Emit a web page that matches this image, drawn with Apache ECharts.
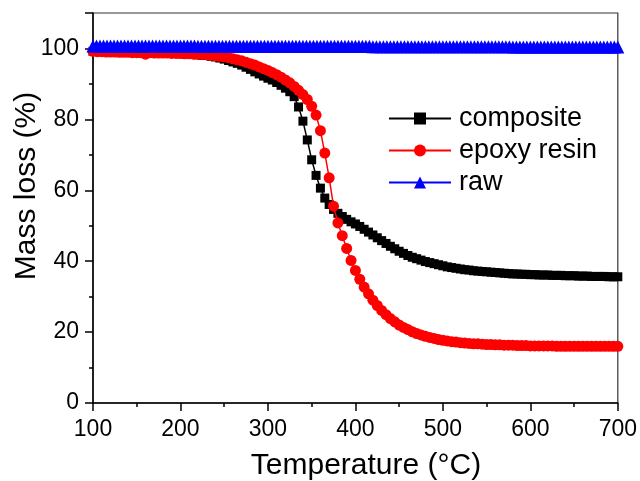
<!DOCTYPE html>
<html>
<head>
<meta charset="utf-8">
<script src="https://cdn.jsdelivr.net/npm/echarts@6/dist/echarts.min.js"></script>
<style>
html,body{margin:0;padding:0;background:#fff;}
#chart{width:640px;height:481px;}
</style>
</head>
<body>
<div id="chart"></div>
<script>
// Temperature grid (°C) for composite / epoxy resin: 100..700 every 5
var tStartA = 100, tStepA = 5;
// Temperature grid for raw: 100..700 every 4
var tStartB = 100, tStepB = 4;

var seriesNames = ['composite', 'epoxy resin', 'raw'];

var composite = [
  99.2, 99.2, 99.1, 99.1, 99.1, 99.0, 99.0, 99.0, 98.9, 98.9,
  98.9, 98.8, 98.8, 98.8, 98.7, 98.7, 98.7, 98.6, 98.6, 98.6,
  98.5, 98.5, 98.4, 98.3, 98.2, 98.1, 98.0, 97.8, 97.6, 97.3,
  97.0, 96.6, 96.2, 95.8, 95.3, 94.7, 94.1, 93.4, 92.8, 92.2,
  91.6, 91.1, 90.4, 89.6, 88.8, 87.8, 86.4, 83.5, 79.5, 74.2,
  68.6, 64.2, 60.6, 57.8, 56.0, 54.6, 53.5, 52.6, 51.8, 51.1,
  50.5, 49.8, 49.0, 48.2, 47.4, 46.6, 45.8, 45.0, 44.2, 43.5,
  42.8, 42.2, 41.6, 41.1, 40.7, 40.3, 39.9, 39.6, 39.3, 39.0,
  38.7, 38.4, 38.2, 38.0, 37.8, 37.6, 37.5, 37.3, 37.2, 37.1,
  37.0, 36.9, 36.8, 36.7, 36.6, 36.5, 36.4, 36.4, 36.3, 36.3,
  36.2, 36.2, 36.1, 36.1, 36.1, 36.0, 36.0, 36.0, 35.9, 35.9,
  35.9, 35.8, 35.8, 35.8, 35.7, 35.7, 35.7, 35.7, 35.6, 35.6,
  35.6
];

var epoxy = [
  99.2, 99.1, 99.1, 99.0, 99.0, 99.0, 98.9, 98.9, 98.9, 98.8,
  98.8, 98.8, 98.4, 98.8, 98.7, 98.7, 98.7, 98.7, 98.6, 98.6,
  98.6, 98.5, 98.5, 98.4, 98.4, 98.3, 98.2, 98.1, 97.9, 97.8,
  97.6, 97.4, 97.1, 96.8, 96.5, 96.1, 95.7, 95.3, 94.8, 94.3,
  93.8, 93.2, 92.6, 91.9, 91.1, 90.3, 89.3, 88.2, 87.0, 85.6,
  83.7, 81.2, 76.8, 70.5, 63.5, 55.5, 50.8, 47.2, 43.6, 40.2,
  37.4, 34.9, 32.7, 30.8, 29.0, 27.5, 26.1, 24.9, 23.8, 22.9,
  22.0, 21.3, 20.7, 20.1, 19.6, 19.2, 18.8, 18.5, 18.2, 17.9,
  17.7, 17.5, 17.3, 17.2, 17.0, 16.9, 16.8, 16.7, 16.7, 16.6,
  16.5, 16.5, 16.4, 16.4, 16.3, 16.3, 16.3, 16.2, 16.2, 16.2,
  16.1, 16.1, 16.1, 16.1, 16.1, 16.1, 16.0, 16.0, 16.0, 16.0,
  16.0, 16.0, 16.0, 16.0, 16.0, 16.0, 16.0, 16.0, 16.0, 16.0,
  16.0
];

var raw = [
  100.7, 100.7, 100.7, 100.7, 100.7, 100.7, 100.7, 100.7, 100.7, 100.7,
  100.7, 100.7, 100.7, 100.7, 100.7, 100.7, 100.7, 100.7, 100.7, 100.7,
  100.7, 100.7, 100.7, 100.7, 100.7, 100.7, 100.7, 100.7, 100.7, 100.7,
  100.6, 100.6, 100.6, 100.6, 100.6, 100.6, 100.6, 100.6, 100.6, 100.6,
  100.6, 100.6, 100.6, 100.6, 100.6, 100.6, 100.6, 100.6, 100.6, 100.6,
  100.6, 100.6, 100.6, 100.6, 100.6, 100.6, 100.6, 100.6, 100.6, 100.6,
  100.6, 100.6, 100.6, 100.6, 100.6, 100.6, 100.6, 100.6, 100.6, 100.6,
  100.6, 100.6, 100.6, 100.6, 100.6, 100.6, 100.6, 100.6, 100.6, 100.6,
  100.5, 100.5, 100.5, 100.5, 100.5, 100.5, 100.5, 100.5, 100.5, 100.5,
  100.5, 100.5, 100.5, 100.5, 100.5, 100.5, 100.5, 100.5, 100.5, 100.5,
  100.5, 100.5, 100.5, 100.5, 100.5, 100.5, 100.5, 100.5, 100.5, 100.5,
  100.5, 100.5, 100.5, 100.5, 100.5, 100.5, 100.5, 100.5, 100.5, 100.5,
  100.4, 100.4, 100.4, 100.4, 100.4, 100.4, 100.4, 100.4, 100.4, 100.4,
  100.4, 100.4, 100.4, 100.4, 100.4, 100.4, 100.4, 100.4, 100.4, 100.4,
  100.4, 100.4, 100.4, 100.4, 100.4, 100.4, 100.4, 100.4, 100.4, 100.4,
  100.4
];

var xTicks = [100, 200, 300, 400, 500, 600, 700];
var yTicks = [0, 20, 40, 60, 80, 100];
var xTitle = 'Temperature (\u00B0C)';
var yTitle = 'Mass loss (%)';

function pairs(start, step, vals) {
  return vals.map(function (v, i) { return [start + i * step, v]; });
}

var FONT = '"Liberation Sans", Arial, sans-serif';
var chart = echarts.init(document.getElementById('chart'), null, {renderer: 'canvas'});

var axisLineStyle = {color: '#000', width: 1.5};

var option = {
  animation: false,
  backgroundColor: '#fff',
  grid: {
    left: 93, right: 22, top: 13, bottom: 78,
    show: true, borderColor: '#333', borderWidth: 1.2, backgroundColor: 'transparent'
  },
  xAxis: [{
    type: 'value', min: 100, max: 700, interval: 100,
    axisLine: {show: true, lineStyle: axisLineStyle},
    axisTick: {show: true, inside: false, length: 8, lineStyle: {color: '#000', width: 1.5}},
    minorTick: {show: true, splitNumber: 2, length: 4, lineStyle: {color: '#000', width: 1.5}},
    splitLine: {show: false},
    axisLabel: {
      color: '#000', fontSize: 23, fontFamily: FONT, margin: 15,
      formatter: function (v) { return xTicks.indexOf(v) >= 0 ? String(v) : ''; }
    }
  }],
  yAxis: [{
    type: 'value', min: 0, max: 110, interval: 20,
    axisLine: {show: true, lineStyle: axisLineStyle},
    axisTick: {show: true, inside: false, length: 8, lineStyle: {color: '#000', width: 1.5}},
    splitLine: {show: false},
    axisLabel: {
      color: '#000', fontSize: 23, fontFamily: FONT, margin: 14,
      formatter: function (v) { return yTicks.indexOf(v) >= 0 ? String(v) : ''; }
    }
  }, {
    type: 'value', min: 0, max: 110, interval: 10, position: 'left',
    axisLine: {show: false},
    axisTick: {show: true, inside: false, length: 4, lineStyle: {color: '#000', width: 1.5}},
    splitLine: {show: false},
    axisLabel: {show: false}
  }],
  legend: {
    orient: 'vertical',
    left: 383, top: 100,
    itemWidth: 62, itemHeight: 15, itemGap: 5,
    textStyle: {color: '#000', fontSize: 27, fontFamily: FONT, padding: [0, 0, 0, 3]},
    data: seriesNames
  },
  series: [{
    name: seriesNames[0], type: 'line', data: pairs(tStartA, tStepA, composite),
    symbol: 'rect', symbolSize: 9, showAllSymbol: true,
    itemStyle: {color: '#000'}, lineStyle: {color: '#000', width: 1.5}, z: 2
  }, {
    name: seriesNames[1], type: 'line', data: pairs(tStartA, tStepA, epoxy),
    symbol: 'circle', symbolSize: 11, showAllSymbol: true,
    itemStyle: {color: '#ff0000'}, lineStyle: {color: '#ff0000', width: 1.5}, z: 3
  }, {
    name: seriesNames[2], type: 'line', data: pairs(tStartB, tStepB, raw),
    symbol: 'triangle', symbolSize: 13, showAllSymbol: true,
    itemStyle: {color: '#0000ff'}, lineStyle: {color: '#0000ff', width: 1.5}, z: 4
  }],
  graphic: [{
    type: 'text', x: 366, y: 466,
    style: {text: xTitle, fill: '#000', font: '30px ' + FONT, textAlign: 'center', textVerticalAlign: 'middle'}
  }, {
    type: 'text', x: 27, y: 186, rotation: Math.PI / 2,
    style: {text: yTitle, fill: '#000', font: '30px ' + FONT, textAlign: 'center', textVerticalAlign: 'middle'}
  }]
};
chart.setOption(option);
</script>
</body>
</html>
